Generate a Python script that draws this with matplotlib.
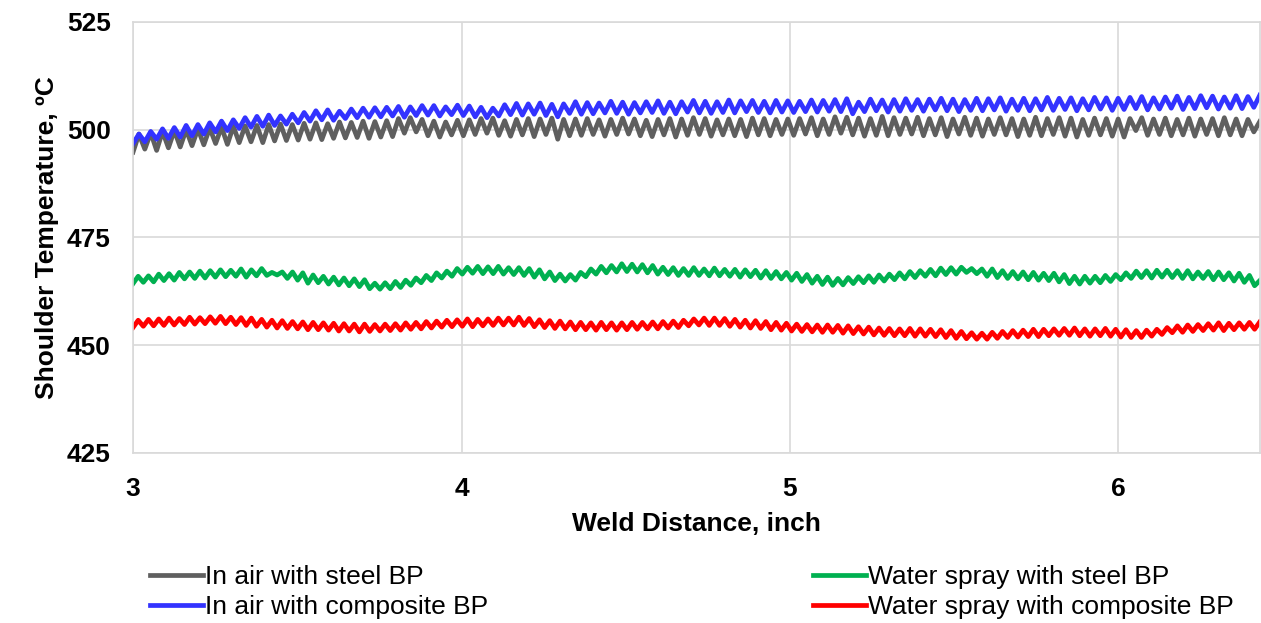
import numpy as np
import matplotlib
matplotlib.use("Agg")
import matplotlib.pyplot as plt

plt.rcParams["font.family"] = ["Liberation Sans", "DejaVu Sans"]

# readings taken from the chart: alternating troughs / peaks along the weld, degC
air_steel = [
    494.8, 499.0, 495.5, 499.3, 495.2, 499.6, 495.8, 499.8, 496.0, 500.0, 496.3, 500.2,
    496.5, 500.4, 496.8, 500.6, 496.6, 500.8, 497.0, 500.9, 497.2, 501.0, 497.0, 501.2, 497.4, 501.3, 497.5, 501.2,
    497.6, 501.5, 497.8, 501.6, 497.7, 501.4, 498.0, 501.8, 498.1, 501.7, 498.2, 502.0, 498.0, 501.9, 498.3, 502.1,
    498.4, 502.6, 499.2, 502.8, 499.5, 502.4, 498.6, 502.0, 498.3, 501.8, 498.8, 502.2,
    498.6, 502.3, 498.9, 502.6, 499.2, 502.7, 498.7, 502.1, 498.5, 502.4, 498.8, 502.6, 498.4, 502.5,
    498.9, 502.7, 497.8, 502.4, 498.6, 502.5, 498.7, 502.6, 498.9, 502.3, 498.5, 502.4, 498.9, 502.7,
    499.0, 502.5, 498.6, 502.2, 498.4, 502.4, 498.8, 502.6, 498.3, 502.5, 498.7, 502.8, 498.9, 502.6,
    498.5, 502.3, 498.8, 502.5, 498.6, 502.4, 498.4, 502.7, 498.8, 502.6, 498.6, 502.4, 498.9, 502.5,
    498.7, 502.6, 499.0, 502.8, 498.6, 502.5, 498.9, 503.0, 499.2, 502.9, 498.8, 502.7, 498.5, 502.6,
    498.7, 503.1, 498.6, 502.8, 498.9, 502.7, 499.0, 502.9, 498.6, 502.6, 498.8, 502.8, 498.4, 502.5,
    499.0, 502.9, 498.7, 502.7, 498.5, 502.5, 498.9, 502.8, 498.8, 502.6, 498.4, 502.5, 498.7, 502.9,
    498.6, 502.6, 498.9, 502.8, 498.5, 502.7, 498.3, 502.4, 498.7, 502.7, 498.8, 502.6, 498.5, 502.5,
    498.3, 502.6, 499.8, 502.8, 498.7, 502.5, 498.9, 502.7, 498.6, 502.4, 498.8, 502.7,
    498.5, 502.5, 498.9, 502.6, 498.6, 502.8, 498.8, 502.5, 498.6, 502.4, 499.5, 501.9,
]

air_composite = [
    496.8, 499.0, 497.2, 499.6, 497.8, 500.2, 498.0, 500.5, 498.3, 501.0, 498.6, 501.2,
    499.0, 501.6, 499.5, 502.0, 499.8, 502.3, 500.3, 502.8, 500.6, 503.1, 500.8, 503.4, 501.0, 503.2, 501.3, 503.6,
    501.6, 504.0, 502.0, 504.4, 502.3, 504.6, 502.2, 504.3, 502.6, 504.8, 502.8, 505.0, 502.9, 505.1, 503.0, 505.2,
    503.2, 505.4, 502.9, 505.3, 503.3, 505.6, 503.4, 505.6, 503.2, 505.3, 503.5, 505.7,
    503.3, 505.5, 503.0, 505.2, 502.8, 505.0, 503.2, 505.8, 503.5, 506.1, 503.4, 506.0, 503.6, 506.2,
    503.3, 505.9, 503.0, 506.0, 503.8, 506.5, 503.6, 506.3, 503.7, 506.2, 503.9, 506.6, 503.8, 506.4,
    503.6, 506.3, 503.9, 506.5, 504.0, 506.7, 503.8, 506.4, 503.7, 506.5, 504.1, 506.8, 503.9, 506.6,
    503.8, 506.5, 504.0, 506.9, 503.9, 506.7, 504.2, 506.8, 504.0, 506.6, 503.9, 506.8, 504.1, 506.7,
    504.0, 506.6, 504.2, 506.9, 504.1, 506.8, 504.3, 507.0, 504.2, 507.2, 503.7, 506.4, 504.2, 507.1,
    504.4, 506.9, 504.1, 507.0, 504.3, 507.2, 504.5, 507.0, 504.3, 507.1, 504.6, 507.3, 504.4, 507.1,
    504.2, 507.0, 504.5, 507.3, 504.4, 507.2, 504.6, 507.4, 504.3, 507.1, 504.5, 507.3, 504.4, 507.2,
    504.6, 507.5, 504.5, 507.3, 504.7, 507.4, 504.4, 507.2, 504.6, 507.5, 504.8, 507.4, 504.5, 507.3,
    504.7, 507.5, 504.9, 507.7, 504.6, 507.4, 504.8, 507.6, 505.0, 507.8, 504.7, 507.5,
    504.9, 507.9, 505.1, 507.8, 504.8, 507.6, 505.0, 507.9, 504.9, 507.7, 505.2, 508.0,
]

water_steel = [
    464.3, 466.0, 464.6, 466.1, 464.7, 466.5, 465.0, 466.6, 465.1, 466.9, 465.4, 467.0,
    465.5, 467.2, 465.6, 467.3, 465.8, 467.5, 465.9, 467.4, 466.0, 467.7, 465.8, 467.5,
    466.1, 467.8, 466.2, 466.9, 466.3, 467.0, 465.5, 467.0, 465.1, 466.8, 464.4, 466.3,
    464.5, 466.0, 464.2, 465.8, 464.0, 465.6, 463.8, 465.4, 463.6, 465.2, 463.1, 464.4,
    463.0, 464.5, 463.1, 464.8, 463.4, 465.1, 463.9, 465.6, 464.5, 466.2, 465.0, 466.8,
    465.6, 467.2, 466.0, 467.8, 466.5, 468.1, 466.7, 468.3, 466.6, 468.2, 466.6, 468.3,
    466.5, 468.0, 466.4, 468.0, 466.2, 467.8, 465.8, 467.5, 465.4, 467.0, 465.0, 466.5,
    464.9, 466.4, 465.1, 466.9, 465.9, 467.7, 466.5, 468.3, 466.8, 468.5, 467.0, 468.9,
    467.1, 468.8, 467.0, 468.7, 466.8, 468.5, 466.5, 468.1, 466.4, 468.0, 466.2, 467.8,
    466.2, 468.0, 466.2, 467.7, 466.1, 467.9, 466.1, 467.6, 466.0, 467.6, 465.8, 467.5,
    465.9, 467.4, 465.6, 467.3, 465.5, 467.1, 465.4, 466.9, 465.1, 466.7, 464.8, 466.4,
    464.4, 466.0, 464.1, 465.8, 463.9, 465.5, 464.0, 465.7, 464.3, 465.9, 464.5, 466.1,
    464.6, 466.3, 464.9, 466.5, 465.2, 466.8, 465.4, 467.1, 465.7, 467.3, 466.0, 467.6,
    466.1, 467.9, 466.4, 468.0, 466.5, 468.1, 466.9, 467.8, 466.6, 467.7, 466.0, 467.7,
    465.7, 467.3, 465.5, 467.1, 465.4, 467.0, 465.2, 466.9, 465.1, 466.7, 465.0, 466.7,
    464.7, 466.4, 464.3, 466.0, 464.2, 466.0, 464.4, 466.0, 464.5, 466.2, 464.8, 466.4,
    465.2, 466.8, 465.5, 467.2, 465.7, 467.3, 465.6, 467.4, 465.8, 467.4, 465.7, 467.3,
    465.5, 467.3, 465.4, 467.0, 465.5, 467.1, 465.2, 467.0, 465.2, 466.8, 464.9, 466.7,
    464.6, 466.2, 463.8, 465.0,
]

water_composite = [
    454.1, 455.8, 454.4, 456.0, 454.5, 456.1, 454.6, 456.3, 454.7, 456.2, 454.8, 456.5,
    454.9, 456.4, 455.0, 456.6, 455.1, 456.7, 455.0, 456.5, 454.8, 456.4, 454.6, 456.3,
    454.4, 456.0, 454.2, 455.8, 454.0, 455.7, 453.9, 455.5, 453.8, 455.4, 453.6, 455.3,
    453.6, 455.2, 453.5, 455.1, 453.3, 455.0, 453.3, 454.9, 453.1, 454.9, 453.2, 454.8,
    453.3, 454.9, 453.4, 455.0, 453.5, 455.2, 453.7, 455.3, 453.8, 455.5, 454.0, 455.6,
    454.2, 455.8, 454.3, 455.9, 454.4, 456.1, 454.3, 456.0, 454.5, 456.1, 454.6, 456.3,
    454.7, 456.3, 454.7, 456.5, 454.6, 456.2, 454.3, 455.9, 454.1, 455.7, 453.9, 455.6,
    453.8, 455.4, 453.6, 455.3, 453.6, 455.2, 453.5, 455.3, 453.6, 455.2, 453.5, 455.2,
    453.6, 455.3, 453.7, 455.3, 453.8, 455.4, 453.8, 455.5, 454.0, 455.6, 454.1, 455.8,
    454.5, 456.1, 454.7, 456.3, 454.6, 456.3, 454.6, 456.2, 454.4, 456.0, 454.2, 455.8,
    454.0, 455.7, 453.9, 455.5, 453.6, 455.3, 453.5, 455.1, 453.3, 454.9, 453.2, 454.8,
    453.1, 454.7, 453.0, 454.7, 453.0, 454.6, 452.8, 454.5, 452.7, 454.3, 452.6, 454.2,
    452.4, 454.0, 452.3, 453.9, 452.2, 453.8, 452.2, 453.9, 452.1, 453.8, 452.1, 453.7,
    452.0, 453.6, 451.8, 453.4, 451.6, 453.2, 451.5, 452.9, 451.4, 452.8, 451.4, 453.0,
    451.6, 453.2, 451.8, 453.4, 451.9, 453.5, 452.0, 453.7, 452.0, 453.7, 452.2, 453.8,
    452.3, 453.9, 452.3, 454.0, 452.2, 453.8, 452.1, 453.8, 452.2, 453.9, 452.1, 453.7,
    451.9, 453.6, 451.8, 453.4, 451.8, 453.5, 452.1, 453.7, 452.5, 454.1, 452.9, 454.5,
    453.0, 454.7, 453.2, 454.8, 453.4, 455.0, 453.5, 455.2, 453.4, 455.1, 453.6, 455.2,
    453.7, 455.3, 453.7, 455.4,
]

labels = ["In air with steel BP", "In air with composite BP",
          "Water spray with steel BP", "Water spray with composite BP"]
colors = ["#5f5f5f", "#3333ff", "#00b050", "#ff0000"]
series = [air_steel, air_composite, water_steel, water_composite]

x_start, x_end = 3.0, 6.43

fig = plt.figure(figsize=(12.61, 6.23), dpi=100)
ax = fig.add_axes([0.1055, 0.2729, 0.8935, 0.6918])

handles = []
for vals, c, lab in zip(series, colors, labels):
    x = np.linspace(x_start, x_end, len(vals))
    h, = ax.plot(x, vals, color=c, lw=3.4, label=lab, solid_joinstyle="round")
    handles.append(h)

ax.set_xlim(x_start, x_end)
ax.set_ylim(425, 525)
ax.set_xticks([3, 4, 5, 6])
ax.set_yticks([425, 450, 475, 500, 525])
ax.grid(True, color="#d9d9d9", lw=1.2)
ax.set_axisbelow(True)
for s in ax.spines.values():
    s.set_color("#d9d9d9")
    s.set_linewidth(1.2)
ax.tick_params(axis="y", length=0, labelsize=19, pad=16)
ax.tick_params(axis="x", length=0, labelsize=19, pad=17)
for t in ax.get_xticklabels() + ax.get_yticklabels():
    t.set_fontweight("bold")

ax.set_xlabel("Weld Distance, inch", fontsize=19, fontweight="bold", labelpad=8)
ax.set_ylabel("Shoulder Temperature, ºC", fontsize=19, fontweight="bold", labelpad=6)

fig.legend(handles=handles, labels=labels, ncol=2, loc="lower left",
           bbox_to_anchor=(0.1005, -0.032), frameon=False, fontsize=19,
           handlelength=2.0, handletextpad=0.08, columnspacing=12.3,
           labelspacing=0.22)

fig.savefig("out.png", dpi=100)
